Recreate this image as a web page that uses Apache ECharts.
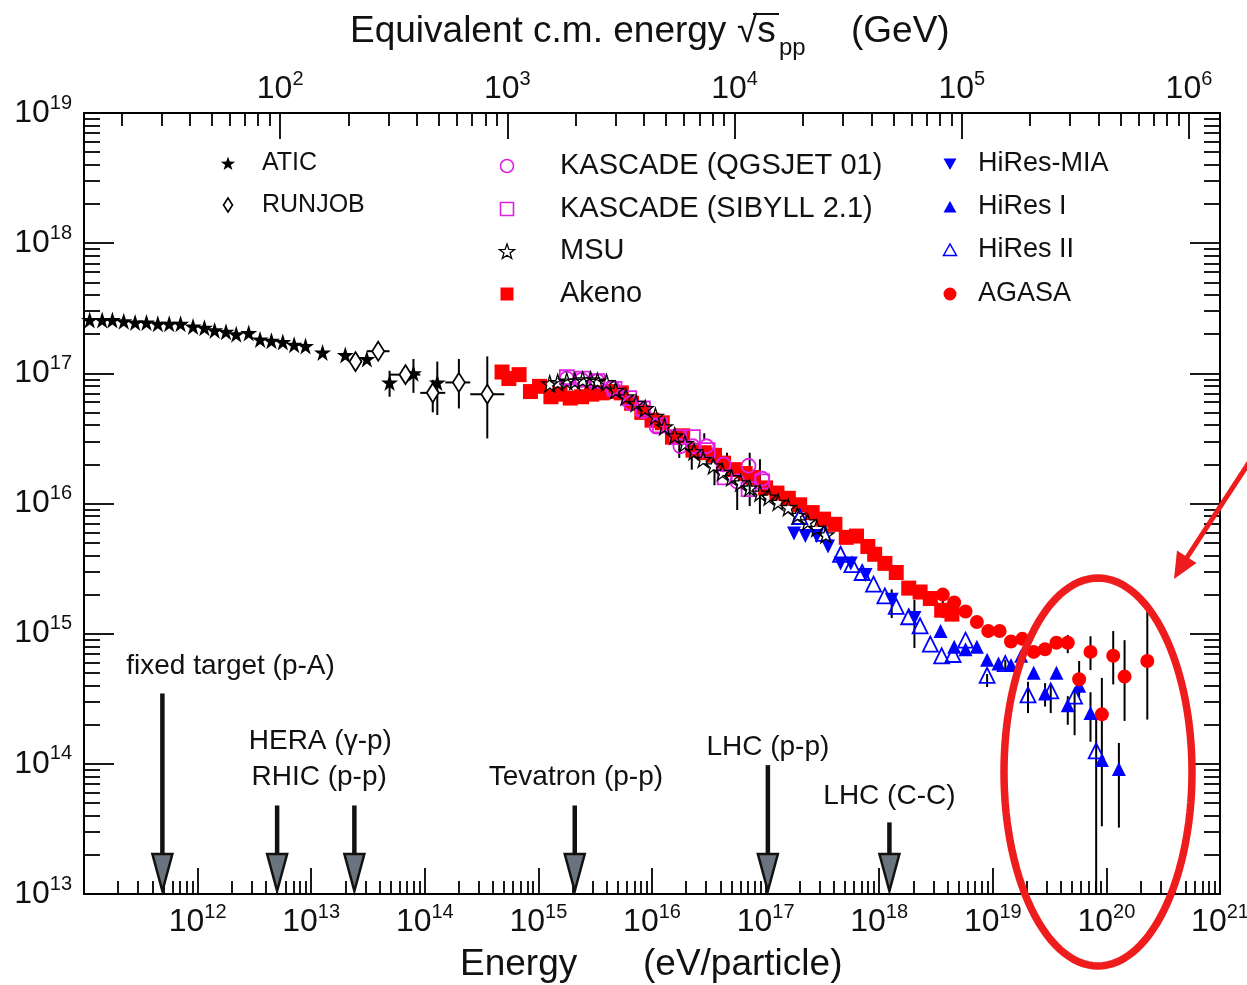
<!DOCTYPE html>
<html><head><meta charset="utf-8">
<script src="https://cdn.jsdelivr.net/npm/echarts@6/dist/echarts.min.js"></script>
<style>html,body{margin:0;padding:0;background:#fff}#c{width:1247px;height:985px}</style>
</head><body><div id="c"></div>
<script>
// All values are log10: [log10 E (eV/particle), log10 flux-weighted value]
const ATIC = [[11.05,17.41],[11.16,17.41],[11.25,17.41],[11.35,17.40],[11.45,17.39],[11.55,17.39],[11.65,17.38],[11.75,17.38],[11.85,17.38],[11.96,17.36],[12.06,17.35],[12.15,17.33],[12.25,17.32],[12.34,17.30],[12.45,17.31],[12.55,17.26],[12.65,17.25],[12.75,17.24],[12.85,17.22],[12.95,17.21],[13.10,17.16],[13.30,17.14],[13.49,17.11],[13.69,16.93],[13.90,17.00],[14.11,16.93]];
const RUNJOB = [[13.39,17.09],[13.59,17.17],[13.83,16.99],[14.07,16.85],[14.30,16.93],[14.55,16.84]];
const KASCADE_QGSJET = [[15.25,16.96],[15.38,16.95],[15.52,16.94],[15.65,16.89],[15.81,16.77],[15.92,16.71],[16.04,16.59],[16.25,16.44],[16.36,16.44],[16.48,16.44],[16.63,16.30],[16.75,16.17],[16.85,16.29],[16.97,16.19]];
const KASCADE_SIBYLL = [[15.25,16.97],[15.39,16.96],[15.52,16.94],[15.67,16.88],[15.80,16.81],[15.92,16.73],[16.07,16.60],[16.22,16.51],[16.36,16.51],[16.49,16.41],[16.64,16.20],[16.85,16.11],[16.97,16.17]];
const MSU = [[15.10,16.92],[15.17,16.93],[15.25,16.94],[15.32,16.94],[15.39,16.95],[15.46,16.95],[15.52,16.94],[15.60,16.93],[15.68,16.87],[15.77,16.82],[15.86,16.77],[15.94,16.73],[16.03,16.67],[16.11,16.59],[16.20,16.52],[16.29,16.46],[16.37,16.40],[16.45,16.34],[16.54,16.29],[16.62,16.24],[16.70,16.20],[16.78,16.16],[16.86,16.12],[16.95,16.08],[17.03,16.05],[17.11,16.01],[17.20,15.97],[17.28,15.91],[17.37,15.86],[17.45,15.81],[17.53,15.76]];
const AKENO = [[14.68,17.01],[14.74,16.96],[14.83,16.99],[14.93,16.86],[15.01,16.90],[15.11,16.82],[15.19,16.84],[15.28,16.81],[15.38,16.82],[15.47,16.84],[15.56,16.85],[15.65,16.86],[15.73,16.85],[15.82,16.77],[15.91,16.70],[16.00,16.64],[16.09,16.62],[16.18,16.51],[16.27,16.52],[16.36,16.41],[16.46,16.39],[16.55,16.37],[16.63,16.31],[16.73,16.26],[16.82,16.23],[16.89,16.20],[17.00,16.12],[17.10,16.08],[17.20,16.04],[17.30,15.99],[17.41,15.93],[17.51,15.88],[17.61,15.84],[17.71,15.74],[17.80,15.75],[17.90,15.67],[17.96,15.61],[18.05,15.54],[18.15,15.47],[18.26,15.35],[18.36,15.32],[18.45,15.27],[18.55,15.18],[18.64,15.15]];
const HIRES_MIA = [[17.25,15.77],[17.35,15.75],[17.45,15.75],[17.55,15.67],[17.66,15.54],[17.75,15.54],[17.88,15.45],[18.11,15.26],[18.31,15.12]];
const HIRES_I = [[18.54,15.02],[18.66,14.90],[18.76,14.88],[18.86,14.90],[18.95,14.80],[19.05,14.77],[19.16,14.76],[19.25,14.83],[19.36,14.70],[19.46,14.54],[19.56,14.70],[19.66,14.45],[19.76,14.60],[19.86,14.39],[19.96,14.03],[20.11,13.96]];
const HIRES_II = [[17.30,15.90],[17.51,15.77],[17.66,15.61],[17.76,15.53],[17.85,15.47],[17.95,15.38],[18.05,15.29],[18.15,15.21],[18.26,15.13],[18.36,15.06],[18.45,14.92],[18.55,14.83],[18.65,14.84],[18.76,14.95],[18.95,14.68],[19.11,14.77],[19.31,14.53],[19.51,14.56],[19.72,14.52],[19.91,14.10]];
const AGASA = [[18.56,15.30],[18.66,15.24],[18.76,15.17],[18.86,15.09],[18.96,15.02],[19.06,15.02],[19.16,14.94],[19.26,14.96],[19.36,14.86],[19.46,14.88],[19.56,14.93],[19.66,14.93],[19.76,14.65],[19.86,14.86],[19.96,14.38],[20.06,14.83],[20.16,14.67],[20.36,14.79]];
// vertical error bars: [log10 E, low, high]
const ERR_Y = [[13.69,16.82,17.02],[13.90,16.85,17.11],[14.11,16.68,17.09],
  [13.83,16.95,17.05],[14.07,16.70,16.95],[14.30,16.73,17.11],[14.55,16.50,17.13],
  [16.24,16.35,16.47],[16.35,16.26,16.36],[16.46,16.49,16.54],[16.55,16.14,16.26],[16.66,16.18,16.39],[16.75,15.95,16.12],[16.86,15.98,16.39],[16.95,15.92,16.34],
  [18.11,15.12,15.34],[18.31,14.89,15.26],[18.56,15.12,15.26],[18.95,14.59,14.69],[19.11,14.71,14.80],
  [19.56,14.89,14.98],[19.66,14.85,14.99],[19.76,14.51,14.79],[19.86,14.72,14.98],[19.96,13.52,14.66],[20.06,14.61,15.02],[20.16,14.33,14.95],[20.36,14.34,15.20],
  [19.31,14.39,14.63],[19.51,14.39,14.61],[19.72,14.22,14.55],[19.91,13.00,14.34],
  [19.46,14.44,14.62],[19.66,14.30,14.52],[19.86,14.17,14.55],[20.11,13.51,14.16]];
// horizontal error bars (RUNJOB): [log10 value, low E, high E]
const ERR_X = [[17.17,13.49,13.69],[16.99,13.69,13.96],[16.85,13.96,14.18],[16.93,14.18,14.40],[16.84,14.40,14.70]];
// accelerator reference energies
const ANNOT_NAMES = ['fixed target (p-A)','HERA (γ-p)','RHIC (p-p)','Tevatron (p-p)','LHC (p-p)','LHC (C-C)'];
const ANNOT_E = [11.69,12.70,13.38,15.32,17.02,18.09];
const ANNOT_TOP = [14.54,13.68,13.68,13.68,13.99,13.55];
const ANNOT_TEXT_AT = [[12.29,14.75],[13.08,14.17],[13.07,13.90],[15.33,13.90],[17.02,14.13],[18.09,13.75]];
// axes
const X_DECADES = [11,12,13,14,15,16,17,18,19,20,21];
const Y_DECADES = [13,14,15,16,17,18,19];
const SQRTS_DECADES = [2,3,4,5,6];

const FF = "'Liberation Sans', Arial, Helvetica, sans-serif";
const X_MIN = X_DECADES[0], X_MAX = X_DECADES[X_DECADES.length-1];
const Y_MIN = Y_DECADES[0], Y_MAX = Y_DECADES[Y_DECADES.length-1];
const LOGN = [2,3,4,5,6,7,8,9].map(Math.log10);
function minors(a,b){const r=[];for(let d=a;d<b;d++)for(const l of LOGN)r.push(d+l);return r;}
// E(eV) = s / (2 m_p) -> log10 E = 2 log10 sqrt(s)[GeV] + 9 - log10(2*0.938)
const OFF = 9 - Math.log10(2*0.938);
const topMajor = SQRTS_DECADES.map(k=>2*k+OFF);
const topMinor = [];
for (let k=1;k<=6;k++) for (const l of LOGN){const v=2*(k+l)+OFF; if(v>X_MIN&&v<X_MAX) topMinor.push(v);}
const sup = n => '{b|10}{s|'+n+'}';
const rich = {b:{fontSize:32,lineHeight:40,fontFamily:FF,color:'#111'},s:{fontSize:20,lineHeight:20,verticalAlign:'top',fontFamily:FF,color:'#111'}};
const K = '#000';
const tickStyle = {color:K,width:1.8};

function xAx(o){return Object.assign({type:'value',min:X_MIN,max:X_MAX,splitLine:{show:false},axisLine:{show:false,onZero:false}},o);}
function yAx(o){return Object.assign({type:'value',min:Y_MIN,max:Y_MAX,splitLine:{show:false},axisLine:{show:false,onZero:false}},o);}

const xAxis = [
  xAx({position:'bottom',interval:1,axisLine:{show:true,onZero:false,lineStyle:{color:K,width:2}},
    axisTick:{inside:true,length:26,lineStyle:tickStyle},
    axisLabel:{margin:8,showMinLabel:false,showMaxLabel:true,formatter:v=>v===X_MIN?'':sup(v),rich:rich}}),
  xAx({position:'bottom',axisTick:{inside:true,length:13,customValues:minors(X_MIN,X_MAX),lineStyle:tickStyle},axisLabel:{show:false}}),
  xAx({position:'top',axisLine:{show:true,onZero:false,lineStyle:{color:K,width:2}},
    axisTick:{inside:true,length:26,customValues:topMajor,lineStyle:tickStyle},
    axisLabel:{customValues:topMajor,margin:4,formatter:v=>sup(Math.round((v-OFF)/2)),rich:rich}}),
  xAx({position:'top',axisTick:{inside:true,length:13,customValues:topMinor,lineStyle:tickStyle},axisLabel:{show:false}})
];
const yAxis = [
  yAx({position:'left',interval:1,axisLine:{show:true,onZero:false,lineStyle:{color:K,width:2}},
    axisTick:{inside:true,length:30,lineStyle:tickStyle},
    axisLabel:{margin:12,formatter:v=>sup(v),rich:rich}}),
  yAx({position:'left',axisTick:{inside:true,length:16,customValues:minors(Y_MIN,Y_MAX),lineStyle:tickStyle},axisLabel:{show:false}}),
  yAx({position:'right',interval:1,axisLine:{show:true,onZero:false,lineStyle:{color:K,width:2}},
    axisTick:{inside:true,length:30,lineStyle:tickStyle},axisLabel:{show:false}}),
  yAx({position:'right',axisTick:{inside:true,length:16,customValues:minors(Y_MIN,Y_MAX),lineStyle:tickStyle},axisLabel:{show:false}})
];

const STAR = 'path://M0,-10 L2.245,-3.09 L9.511,-3.09 L3.633,1.18 L5.878,8.09 L0,3.82 L-5.878,8.09 L-3.633,1.18 L-9.511,-3.09 L-2.245,-3.09 Z';
const RED = '#ff0000', BLUE = '#0000ff', MAG = '#e020e0', NONE = 'rgba(0,0,0,0)';
function sc(name,data,symbol,size,style,extra){
  return Object.assign({type:'scatter',name:name,data:data,symbol:symbol,symbolSize:size,itemStyle:Object.assign({opacity:1},style),z:3,silent:true},extra||{});
}
const series = [
  {type:'custom',name:'errY',data:ERR_Y,z:2,silent:true,clip:true,renderItem:(p,api)=>{
    const a=api.coord([api.value(0),api.value(1)]), b=api.coord([api.value(0),api.value(2)]);
    return {type:'line',shape:{x1:a[0],y1:a[1],x2:b[0],y2:b[1]},style:{stroke:K,lineWidth:2}};}},
  {type:'custom',name:'errX',data:ERR_X,z:2,silent:true,clip:true,renderItem:(p,api)=>{
    const a=api.coord([api.value(1),api.value(0)]), b=api.coord([api.value(2),api.value(0)]);
    return {type:'line',shape:{x1:a[0],y1:a[1],x2:b[0],y2:b[1]},style:{stroke:K,lineWidth:2}};}},
  sc('ATIC',ATIC,STAR,17,{color:K}),
  sc('RUNJOB',RUNJOB,'diamond',[12,19],{color:'#fff',borderColor:K,borderWidth:1.8}),
  sc('Akeno',AKENO,'rect',15,{color:RED}),
  sc('KASCADE (QGSJET 01)',KASCADE_QGSJET,'circle',14,{color:NONE,borderColor:MAG,borderWidth:1.8},{z:4}),
  sc('KASCADE (SIBYLL 2.1)',KASCADE_SIBYLL,'rect',14,{color:NONE,borderColor:MAG,borderWidth:1.8},{z:4}),
  sc('MSU',MSU,STAR,16,{color:NONE,borderColor:K,borderWidth:1.3},{z:5}),
  sc('HiRes-MIA',HIRES_MIA,'triangle',14,{color:BLUE},{symbolRotate:180}),
  sc('HiRes I',HIRES_I,'triangle',14,{color:BLUE}),
  sc('HiRes II',HIRES_II,'triangle',15,{color:NONE,borderColor:BLUE,borderWidth:1.8}),
  sc('AGASA',AGASA,'circle',14,{color:RED}),
  {type:'custom',name:'accelerators',data:ANNOT_E.map((e,i)=>[e,ANNOT_TOP[i]]),z:6,silent:true,renderItem:(p,api)=>{
    const top=api.coord([api.value(0),api.value(1)]), base=api.coord([api.value(0),Y_MIN]);
    const x=top[0], tip=base[1]-3, hh=37, hw=10;
    return {type:'group',children:[
      {type:'line',shape:{x1:x,y1:top[1],x2:x,y2:tip-hh+2},style:{stroke:'#111',lineWidth:4.5}},
      {type:'polygon',shape:{points:[[x-hw,tip-hh],[x+hw,tip-hh],[x,tip]]},style:{fill:'#69747e',stroke:'#111',lineWidth:2.5}}
    ]};}},
  {type:'custom',name:'acceleratorLabels',data:ANNOT_TEXT_AT,z:6,silent:true,renderItem:(p,api)=>{
    const c=api.coord([api.value(0),api.value(1)]);
    return {type:'text',x:c[0],y:c[1],style:{text:ANNOT_NAMES[p.dataIndex],font:'28px '+FF,fill:'#111',align:'center',verticalAlign:'middle',textAlign:'center',textVerticalAlign:'middle'}};}}
];

// ---- legend & decorations (graphic) ----
function starPts(cx,cy,R){const pts=[];for(let i=0;i<10;i++){const a=(-90+i*36)*Math.PI/180, r=i%2?R*0.4:R;pts.push([cx+r*Math.cos(a),cy+r*Math.sin(a)]);}return pts;}
function marker(kind,cx,cy){
  switch(kind){
    case 'star': return {type:'polygon',shape:{points:starPts(cx,cy+1,7.5)},style:{fill:K}};
    case 'ostar': return {type:'polygon',shape:{points:starPts(cx,cy+1,8)},style:{fill:NONE,stroke:K,lineWidth:1.3}};
    case 'diamond': return {type:'polygon',shape:{points:[[cx,cy-7],[cx+4.5,cy],[cx,cy+7],[cx-4.5,cy]]},style:{fill:'#fff',stroke:K,lineWidth:1.6}};
    case 'ocircle': return {type:'circle',shape:{cx:cx,cy:cy,r:6.5},style:{fill:NONE,stroke:MAG,lineWidth:1.6}};
    case 'osquare': return {type:'rect',shape:{x:cx-6.5,y:cy-6.5,width:13,height:13},style:{fill:NONE,stroke:MAG,lineWidth:1.6}};
    case 'square': return {type:'rect',shape:{x:cx-6.5,y:cy-6.5,width:13,height:13},style:{fill:RED}};
    case 'dtri': return {type:'polygon',shape:{points:[[cx-6.5,cy-5.5],[cx+6.5,cy-5.5],[cx,cy+6]]},style:{fill:BLUE}};
    case 'utri': return {type:'polygon',shape:{points:[[cx-6.5,cy+5.5],[cx+6.5,cy+5.5],[cx,cy-6]]},style:{fill:BLUE}};
    case 'outri': return {type:'polygon',shape:{points:[[cx-6.5,cy+5.5],[cx+6.5,cy+5.5],[cx,cy-6]]},style:{fill:NONE,stroke:BLUE,lineWidth:1.5}};
    case 'circle': return {type:'circle',shape:{cx:cx,cy:cy,r:6.5},style:{fill:RED}};
  }
}
const legendCols = [
  {mx:228,tx:262,fs:25,items:[['ATIC','star',163],['RUNJOB','diamond',205]]},
  {mx:507,tx:560,fs:29,items:[['KASCADE (QGSJET 01)','ocircle',166],['KASCADE (SIBYLL 2.1)','osquare',209],['MSU','ostar',251],['Akeno','square',294]]},
  {mx:950,tx:978,fs:27,items:[['HiRes-MIA','dtri',164],['HiRes I','utri',207],['HiRes II','outri',250],['AGASA','circle',294]]}
];
const graphics = [];
function txt(s,x,y,fs,align){return {type:'text',x:x,y:y,z:10,style:{text:s,font:fs+'px '+FF,fill:'#111',align:align||'left',verticalAlign:'middle',textAlign:align||'left',textVerticalAlign:'middle'}};}
legendCols.forEach(col=>col.items.forEach(it=>{
  const m=marker(it[1],col.mx,it[2]); m.z=10; graphics.push(m);
  graphics.push(txt(it[0],col.tx,it[2],col.fs));
}));
// titles
graphics.push(txt('Equivalent c.m. energy',350,32,37));
graphics.push(txt('√s',737,32,37));
graphics.push({type:'line',z:10,shape:{x1:753,y1:14,x2:779,y2:14},style:{stroke:'#111',lineWidth:2}});
graphics.push(txt('pp',779,48,24));
graphics.push(txt('(GeV)',851,32,37));
graphics.push(txt('Energy',460,965,37));
graphics.push(txt('(eV/particle)',643,965,37));
// red highlight ellipse + arrow
const ell=[];for(let i=0;i<=120;i++){const t=i/120*2*Math.PI;ell.push([1098+94*Math.cos(t),772+194*Math.sin(t)]);}
graphics.push({type:'polyline',z:12,shape:{points:ell},style:{stroke:'#ee1c1c',lineWidth:7.5,fill:null}});
graphics.push({type:'line',z:12,shape:{x1:1252,y1:458,x2:1186,y2:559},style:{stroke:'#ee1c1c',lineWidth:5}});
graphics.push({type:'polygon',z:12,shape:{points:[[1174,579],[1196.5,563],[1177,550.5]]},style:{fill:'#ee1c1c'}});

const chart = echarts.init(document.getElementById('c'),null,{renderer:'canvas'});
chart.setOption({
  animation:false,
  backgroundColor:'#fff',
  grid:{left:84,right:27,top:113,bottom:91,containLabel:false,outerBoundsMode:'none'},
  xAxis:xAxis,yAxis:yAxis,series:series,graphic:{elements:graphics}
});
</script></body></html>
